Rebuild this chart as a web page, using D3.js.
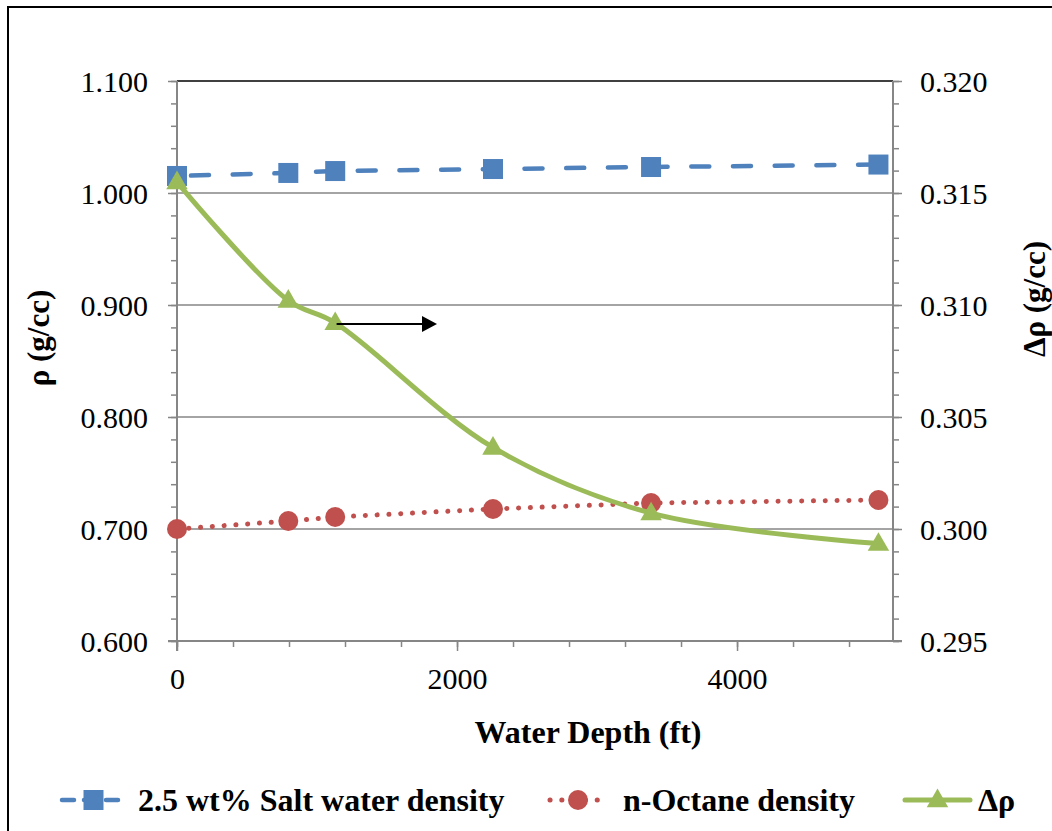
<!DOCTYPE html>
<html>
<head>
<meta charset="utf-8">
<script src="https://cdn.jsdelivr.net/npm/d3@7"></script>
<style>
  html, body { margin: 0; padding: 0; background: #fff; }
  svg { display: block; }
  text { font-family: "Liberation Serif", "Times New Roman", serif; fill: #000; }
</style>
</head>
<body>
<svg id="chart" width="1052" height="831"></svg>
<script>
// ---------- data ----------
const depths = [0, 795, 1130, 2257, 3386, 5010];            // Water Depth (ft)
const saltWater = [1.0152, 1.0179, 1.0196, 1.0214, 1.0232, 1.0254]; // g/cc
const octane = [0.7000, 0.7071, 0.7107, 0.7179, 0.7232, 0.7259];    // g/cc
const deltaRho = [0.31549, 0.31020, 0.30920, 0.30364, 0.30071, 0.29935]; // g/cc (secondary)

const xTicks = [0, 2000, 4000];
const yLeftTicks = [0.6, 0.7, 0.8, 0.9, 1.0, 1.1];
const yRightTicks = [0.295, 0.300, 0.305, 0.310, 0.315, 0.320];
const seriesNames = ["2.5 wt% Salt water density", "n-Octane density", "\u0394\u03c1"];
const axisTitles = { x: "Water Depth (ft)", yLeft: "\u03c1 (g/cc)", yRight: "\u0394\u03c1 (g/cc)" };
// annotation arrow pointing to the secondary axis (data units)
const arrowFrom = [1140, 0.30915];
const arrowTo = [1857, 0.30915];

// ---------- layout ----------
const svg = d3.select("#chart");
const L = 177, R = 893, T = 81, B = 641;
const gray = "#868686";
const blue = "#4F81BD", red = "#C0504D", green = "#9BBB59";
const serif = "'Liberation Serif', 'Times New Roman', serif";

const x = d3.scaleLinear().domain([0, 5114]).range([L, R]);
const yL = d3.scaleLinear().domain([0.6, 1.1]).range([B, T]);
const yR = d3.scaleLinear().domain([0.295, 0.320]).range([B, T]);

// outer frame
svg.append("rect").attr("x", 8).attr("y", 7).attr("width", 1100).attr("height", 900)
  .attr("fill", "none").attr("stroke", "#000").attr("stroke-width", 2);

// gridlines
svg.append("g").selectAll("line").data(yLeftTicks.filter(d => d > 0.65 && d < 1.05)).join("line")
  .attr("x1", L).attr("x2", R).attr("y1", d => yL(d)).attr("y2", d => yL(d))
  .attr("stroke", gray).attr("stroke-width", 1.5);
// top border of plot
svg.append("line").attr("x1", L).attr("x2", R).attr("y1", T).attr("y2", T)
  .attr("stroke", "#000").attr("stroke-width", 1.5);

// helper to style axes
function styleAxis(g) {
  g.attr("font-family", serif).attr("font-size", 30);
  g.select(".domain").remove();
  g.selectAll(".tick line").attr("stroke", gray).attr("stroke-width", 1.5);
  g.selectAll("text").attr("font-size", 30).attr("font-family", serif).attr("fill", "#000");
}

// minor ticks
const yMinorL = d3.range(0, 26).map(i => 0.6 + i * 0.02);
const yMinorR = d3.range(0, 26).map(i => 0.295 + i * 0.001);
const xMinor = d3.range(0, 13).map(i => i * 400);

svg.append("g").attr("transform", `translate(${L},0)`)
  .call(d3.axisLeft(yL).tickValues(yMinorL).tickSize(6).tickFormat(""))
  .call(styleAxis);
svg.append("g").attr("transform", `translate(${R},0)`)
  .call(d3.axisRight(yR).tickValues(yMinorR).tickSize(6).tickFormat(""))
  .call(styleAxis);
svg.append("g").attr("transform", `translate(0,${B})`)
  .call(d3.axisBottom(x).tickValues(xMinor).tickSize(6).tickFormat(""))
  .call(styleAxis);

// major ticks + labels
svg.append("g").attr("transform", `translate(${L},0)`)
  .call(d3.axisLeft(yL).tickValues(yLeftTicks).tickSize(9).tickPadding(20).tickFormat(d3.format(".3f")))
  .call(styleAxis)
  .selectAll("text").attr("dy", "0.34em");
svg.append("g").attr("transform", `translate(${R},0)`)
  .call(d3.axisRight(yR).tickValues(yRightTicks).tickSize(9).tickPadding(18).tickFormat(d3.format(".3f")))
  .call(styleAxis)
  .selectAll("text").attr("dy", "0.34em");
svg.append("g").attr("transform", `translate(0,${B})`)
  .call(d3.axisBottom(x).tickValues(xTicks).tickSize(10).tickFormat(d3.format("d")))
  .call(styleAxis)
  .selectAll("text").attr("y", 48).attr("dy", 0);

// axis lines
svg.append("line").attr("x1", L).attr("x2", L).attr("y1", T).attr("y2", B + 10)
  .attr("stroke", gray).attr("stroke-width", 2);
svg.append("line").attr("x1", R).attr("x2", R).attr("y1", T).attr("y2", B)
  .attr("stroke", gray).attr("stroke-width", 2);
svg.append("line").attr("x1", L - 9).attr("x2", R + 9).attr("y1", B).attr("y2", B)
  .attr("stroke", gray).attr("stroke-width", 2);

// axis titles
svg.append("text").attr("x", 588).attr("y", 743).attr("text-anchor", "middle")
  .attr("font-size", 32).attr("font-weight", "bold").text(axisTitles.x);
svg.append("text").attr("transform", "translate(49,338) rotate(-90)").attr("text-anchor", "middle")
  .attr("font-size", 31).attr("font-weight", "bold").text(axisTitles.yLeft);
svg.append("text").attr("transform", "translate(1045,299) rotate(-90)").attr("text-anchor", "middle")
  .attr("font-size", 31).attr("font-weight", "bold").text(axisTitles.yRight);

// ---------- series ----------
const saltPts = depths.map((d, i) => [x(d), yL(saltWater[i])]);
const octPts = depths.map((d, i) => [x(d), yL(octane[i])]);
const dPts = depths.map((d, i) => [x(d), yR(deltaRho[i])]);

const lineStraight = d3.line();
const lineSmooth = d3.line().curve(d3.curveCatmullRom.alpha(0.5));

const dashBlue = "18 23.7", dotRed = "0.1 11.7";

svg.append("path").attr("d", lineStraight(saltPts)).attr("fill", "none")
  .attr("stroke", blue).attr("stroke-width", 4.5).attr("stroke-linecap", "round")
  .attr("stroke-dasharray", dashBlue).attr("stroke-dashoffset", -14);
svg.append("g").selectAll("rect").data(saltPts).join("rect")
  .attr("x", d => d[0] - 10).attr("y", d => d[1] - 10).attr("width", 20).attr("height", 20)
  .attr("fill", blue);

svg.append("path").attr("d", lineStraight(octPts)).attr("fill", "none")
  .attr("stroke", red).attr("stroke-width", 5).attr("stroke-linecap", "round")
  .attr("stroke-dasharray", dotRed);
svg.append("g").selectAll("circle").data(octPts).join("circle")
  .attr("cx", d => d[0]).attr("cy", d => d[1]).attr("r", 10).attr("fill", red);

svg.append("path").attr("d", lineSmooth(dPts)).attr("fill", "none")
  .attr("stroke", green).attr("stroke-width", 5);
const tri = d3.symbol().type(d3.symbolTriangle).size(200);
svg.append("g").selectAll("path").data(dPts).join("path")
  .attr("transform", d => `translate(${d[0]},${d[1] + 1})`).attr("d", tri).attr("fill", green);

// annotation arrow
const ax0 = x(arrowFrom[0]), ay = yR(arrowFrom[1]), ax1 = x(arrowTo[0]);
svg.append("line").attr("x1", ax0).attr("x2", ax1 - 12).attr("y1", ay).attr("y2", ay)
  .attr("stroke", "#000").attr("stroke-width", 2);
svg.append("path").attr("d", `M${ax1},${ay} L${ax1 - 15},${ay - 8} L${ax1 - 15},${ay + 8} Z`).attr("fill", "#000");

// ---------- legend ----------
const legY = 800;
const legend = [
  { name: seriesNames[0], x0: 62, x1: 125, color: blue, kind: "square", textX: 138 },
  { name: seriesNames[1], x0: 550, x1: 606, color: red, kind: "circle", textX: 623 },
  { name: seriesNames[2], x0: 905, x1: 970, color: green, kind: "triangle", textX: 978 }
];
legend.forEach(l => {
  const g = svg.append("g");
  const ln = g.append("line").attr("x1", l.x0).attr("x2", l.x1).attr("y1", legY).attr("y2", legY)
    .attr("stroke", l.color).attr("stroke-linecap", "round");
  const cx = (l.x0 + l.x1) / 2;
  if (l.kind === "square") {
    ln.attr("stroke-width", 4.5).attr("stroke-dasharray", "12 10");
    g.append("rect").attr("x", cx - 10).attr("y", legY - 10).attr("width", 20).attr("height", 20).attr("fill", l.color);
  } else if (l.kind === "circle") {
    ln.attr("stroke-width", 5).attr("stroke-dasharray", dotRed);
    g.append("circle").attr("cx", cx).attr("cy", legY).attr("r", 10).attr("fill", l.color);
  } else {
    ln.attr("stroke-width", 5);
    g.append("path").attr("transform", `translate(${cx},${legY + 1})`).attr("d", tri).attr("fill", l.color);
  }
  g.append("text").attr("x", l.textX).attr("y", legY + 11).attr("font-size", 32)
    .attr("font-weight", "bold").text(l.name);
});
</script>
</body>
</html>
